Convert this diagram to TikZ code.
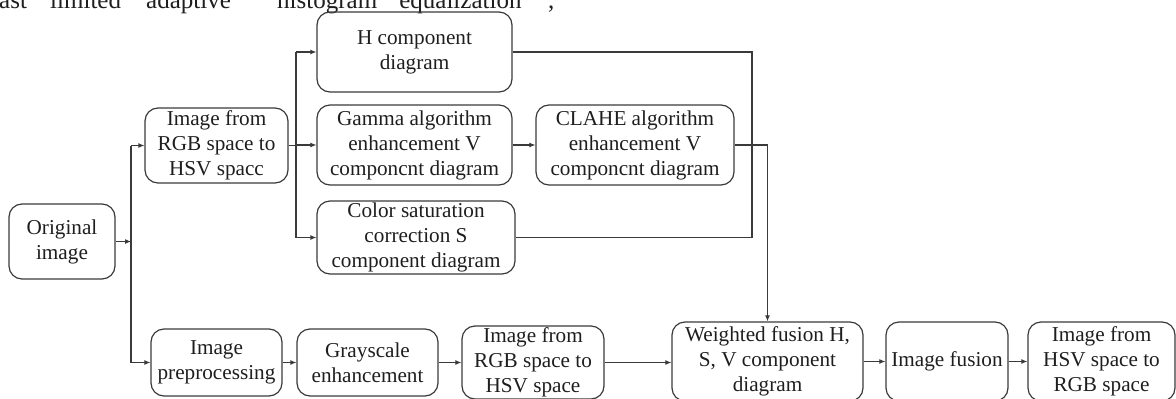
\documentclass[tikz,border=0pt]{standalone}
\usepackage{fontspec}
\setmainfont{Liberation Serif}
\usetikzlibrary{arrows.meta}
\definecolor{linec}{HTML}{3A3A3A}
\definecolor{txt}{HTML}{1E1E1E}
\begin{document}
\begin{tikzpicture}[x=1pt,y=-1pt,
  box/.style={draw=linec, line width=1.2pt, rounded corners=13pt, align=center,
    inner sep=1pt, font=\fontsize{21.2}{25}\selectfont, text=txt},
  conn/.style={draw=linec, line width=1.1pt},
  arr/.style={conn, -{Latex[length=6pt,width=5pt]}},
  captxt/.style={inner sep=0pt, anchor=base west, font=\fontsize{25}{28}\selectfont, text=txt}]
\useasboundingbox (0,0) rectangle (1176,399);
\clip (0,0) rectangle (1176,399);

% cut-off caption line at the top
\node[captxt] (c1) at (-1,8) {ast};
\node[captxt] (c2) at (50,8) {limited};
\node[captxt] (c3) at (146,8) {adaptive};
\node[captxt] (c4) at (277,8) {histogram};
\node[captxt] (c5) at (388,8) {“equalization”};
\node[captxt] (c6) at (548,8) {,};

% boxes
\node[box, minimum width=106pt, minimum height=75pt] (orig) at (62,241.5) {Original\\image};
\node[box, minimum width=143pt, minimum height=75pt] (rgb1) at (216.5,145.5) {Image from\\RGB space to\\HSV spacc};
\node[box, minimum width=195pt, minimum height=80pt] (H) at (414.5,52) {H component\\diagram};
\node[box, minimum width=195pt, minimum height=80pt] (gamma) at (414.5,145) {Gamma algorithm\\enhancement V\\componcnt diagram};
\node[box, minimum width=198pt, minimum height=80pt] (clahe) at (635,145) {CLAHE algorithm\\enhancement V\\componcnt diagram};
\node[box, minimum width=198pt, minimum height=73pt] (sat) at (416,237.5) {Color saturation\\correction S\\component diagram};
\node[box, minimum width=131pt, minimum height=67pt] (pre) at (216.5,362.5) {Image\\preprocessing};
\node[box, minimum width=141pt, minimum height=67pt] (gray) at (367.5,362.5) {Grayscale\\enhancement};
\node[box, minimum width=142pt, minimum height=73pt] (rgb2) at (533,362.5) {Image from\\RGB space to\\HSV space};
\node[box, minimum width=191pt, minimum height=79pt] (weighted) at (767.5,361.5) {Weighted fusion H,\\S, V component\\diagram};
\node[box, minimum width=122pt, minimum height=79pt] (fusion) at (947,361.5) {Image fusion};
\node[box, minimum width=147pt, minimum height=79pt] (hsv) at (1101.5,361.5) {Image from\\HSV space to\\RGB space};

% trunk from original image
\coordinate (sA) at (131,0);
\draw[arr] (orig.east) -- (orig.east -| sA);
\draw[conn] (sA |- rgb1.west) -- (sA |- pre.west);
\draw[arr] (sA |- rgb1.west) -- (rgb1.west);
\draw[arr] (sA |- pre.west) -- (pre.west);

% split after HSV conversion
\coordinate (sB) at (296,0);
\draw[conn] (rgb1.east) -- (rgb1.east -| sB);
\draw[conn] (sB |- H.west) -- (sB |- sat.west);
\draw[arr] (sB |- H.west) -- (H.west);
\draw[arr] (sB |- gamma.west) -- (gamma.west);
\draw[arr] (sB |- sat.west) -- (sat.west);
\draw[arr] (gamma.east) -- (clahe.west);

% collector of H and S
\coordinate (sC) at (752,0);
\draw[conn] (H.east) -| (sC |- sat.east) -- (sat.east);

% V to weighted fusion
\draw[arr] (clahe.east) -| (weighted.north);

% bottom row
\draw[arr] (pre.east) -- (gray.west);
\draw[arr] (gray.east) -- (rgb2.west);
\draw[arr] (rgb2.east) -- (rgb2.east -| weighted.west);
\draw[arr] (weighted.east) -- (fusion.west);
\draw[arr] (fusion.east) -- (hsv.west);
\end{tikzpicture}
\end{document}
